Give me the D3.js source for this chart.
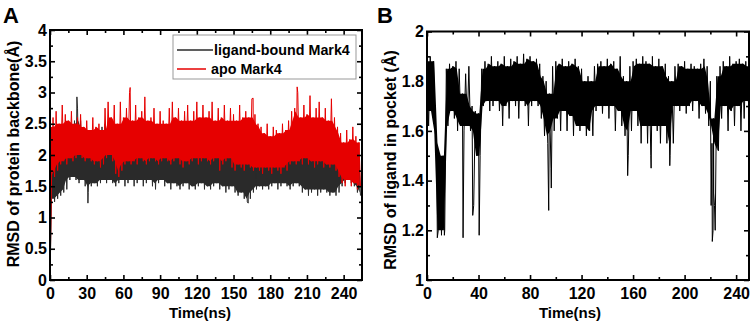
<!DOCTYPE html>
<html><head><meta charset="utf-8">
<script src="https://cdn.jsdelivr.net/npm/d3@7"></script>
<style>body{margin:0;background:#fff}svg{display:block}</style>
</head><body>
<svg id="c" width="754" height="323"></svg>
<script>
// ---------- DATA (2.5 ns bins: local high / local low) ----------
const STEP = 2.5;
// Panel A : ligand-bound Mark4 (black), apo Mark4 (red), time 0–252.5 ns
const aBlackHi = [1.9,2.0,2.05,2.1,2.15,2.2,2.35,2.5,2.55,2.75,
  2.55,2.4,2.3,2.25,2.35,2.3,2.35,2.45,2.5,2.45,
  2.3,2.15,2.2,2.3,2.25,2.2,2.3,2.35,2.25,2.2,
  2.3,2.25,2.2,2.3,2.35,2.25,2.2,2.3,2.25,2.35,
  2.45,2.3,2.2,2.25,2.3,2.2,2.25,2.3,2.2,2.25,
  2.3,2.2,2.25,2.35,2.2,2.3,2.25,2.15,2.25,2.2,
  2.3,2.2,2.15,2.25,2.2,2.3,2.2,2.25,2.15,2.2,
  2.25,2.1,2.2,2.15,2.25,2.2,2.1,2.2,2.25,2.15,
  2.2,2.3,2.25,2.15,2.2,2.3,2.2,2.15,2.2,2.25,
  2.3,2.2,2.25,2.2,2.1,2.05,2.0,2.1,2.0,2.05,
  2.0,1.95];
const aBlackLo = [1.3,1.25,1.3,1.35,1.4,1.45,1.6,1.65,1.6,1.55,
  1.6,1.5,1.4,1.5,1.55,1.5,1.55,1.6,1.55,1.6,
  1.55,1.5,1.55,1.6,1.5,1.55,1.6,1.5,1.55,1.6,
  1.5,1.55,1.6,1.5,1.45,1.55,1.6,1.5,1.55,1.45,
  1.55,1.5,1.45,1.5,1.55,1.45,1.5,1.45,1.5,1.55,
  1.45,1.5,1.45,1.5,1.55,1.45,1.5,1.4,1.45,1.5,
  1.4,1.35,1.4,1.3,1.25,1.3,1.4,1.45,1.5,1.45,
  1.5,1.45,1.5,1.55,1.45,1.5,1.55,1.5,1.45,1.5,
  1.55,1.5,1.4,1.45,1.35,1.4,1.45,1.35,1.4,1.45,
  1.4,1.35,1.4,1.35,1.4,1.5,1.55,1.6,1.55,1.5,
  1.4,1.35];
const aBlackSpikes = [[0,0],[22,2.93],[31,1.23],[162,1.23]];
const aRedHi = [2.45,2.6,2.7,2.5,2.8,2.65,2.55,2.7,2.5,2.6,
  2.65,2.45,2.55,2.4,2.6,2.45,2.5,2.4,2.75,2.85,
  2.6,2.8,2.5,2.85,2.6,2.75,3.0,2.55,2.8,2.6,
  2.7,2.9,2.55,2.6,2.75,2.5,2.7,2.55,2.5,2.75,
  2.85,2.6,2.75,2.55,2.7,2.8,2.55,2.7,2.85,2.6,
  2.8,2.6,2.7,2.85,2.55,2.75,2.6,2.8,2.55,2.75,
  2.65,2.55,2.8,2.6,2.7,2.6,2.9,2.65,2.5,2.45,
  2.35,2.5,2.3,2.45,2.4,2.35,2.5,2.4,2.55,2.7,
  2.75,3.0,2.6,2.8,2.65,2.95,2.6,2.75,2.85,2.6,
  2.75,2.55,2.9,2.6,2.45,2.35,2.2,2.4,2.25,2.45,
  2.3,2.2];
const aRedLo = [1.6,1.65,1.75,1.85,1.9,1.85,1.95,1.9,1.95,2.0,
  1.95,1.9,1.95,1.9,1.85,1.9,1.8,1.85,1.95,2.0,
  1.9,1.7,1.65,1.75,1.85,1.9,1.85,1.9,1.85,1.95,
  1.9,1.85,1.9,1.95,1.9,1.85,1.9,1.95,1.9,1.85,
  1.9,1.95,1.85,1.8,1.9,1.85,1.9,1.95,1.85,1.9,
  1.95,1.9,1.85,1.9,1.95,1.75,1.85,1.9,1.95,1.8,
  1.75,1.85,1.8,1.75,1.85,1.8,1.75,1.8,1.75,1.7,
  1.8,1.75,1.7,1.8,1.75,1.7,1.8,1.75,1.85,1.9,
  1.85,1.9,1.85,1.95,1.85,1.9,1.8,1.85,1.9,1.8,
  1.85,1.8,1.85,1.75,1.65,1.55,1.5,1.6,1.5,1.55,
  1.45,1.5];
const aRedSpikes = [[0,0],[65.5,3.08],[77.5,2.93],[166,2.91],[202,3.09]];
const aXTicks = [0,30,60,90,120,150,180,210,240];
const aYTicks = [0,0.5,1,1.5,2,2.5,3,3.5,4];

// Panel B : ligand RMSD in pocket, time 0–250 ns
const bHi = [1.88,1.9,1.88,1.55,1.5,1.5,1.85,1.87,1.86,1.88,
  1.85,1.75,1.83,1.86,1.7,1.68,1.67,1.85,1.88,1.87,
  1.9,1.86,1.88,1.87,1.9,1.86,1.89,1.88,1.9,1.87,
  1.91,1.89,1.9,1.88,1.89,1.87,1.82,1.8,1.75,1.86,
  1.88,1.87,1.89,1.86,1.88,1.87,1.89,1.86,1.85,1.8,
  1.82,1.8,1.86,1.87,1.88,1.86,1.89,1.87,1.88,1.85,
  1.9,1.82,1.8,1.86,1.88,1.89,1.87,1.9,1.88,1.87,
  1.9,1.86,1.89,1.86,1.87,1.82,1.8,1.86,1.87,1.86,
  1.88,1.85,1.87,1.86,1.85,1.87,1.89,1.86,1.8,1.65,
  1.82,1.86,1.88,1.86,1.9,1.87,1.88,1.89,1.87,1.88,
  1.86];
const bLo = [1.62,1.68,1.6,1.2,1.18,1.2,1.62,1.68,1.65,1.6,
  1.62,1.6,1.62,1.6,1.3,1.5,1.5,1.7,1.72,1.68,
  1.7,1.72,1.68,1.62,1.7,1.65,1.72,1.7,1.65,1.72,
  1.7,1.62,1.7,1.72,1.7,1.65,1.58,1.55,1.45,1.6,
  1.65,1.6,1.68,1.6,1.66,1.58,1.62,1.6,1.62,1.58,
  1.6,1.58,1.68,1.7,1.67,1.7,1.65,1.7,1.6,1.68,
  1.62,1.58,1.5,1.6,1.68,1.62,1.55,1.62,1.55,1.5,
  1.62,1.6,1.55,1.62,1.55,1.5,1.55,1.7,1.68,1.7,
  1.67,1.7,1.68,1.72,1.65,1.7,1.67,1.62,1.55,1.2,
  1.52,1.65,1.7,1.6,1.68,1.62,1.7,1.6,1.65,1.72,
  1.6];
const bSpikes = [[8,1.17],[13.5,1.18],[28,1.17],[35.5,1.26],[40.5,1.18],[94.5,1.28],[96.5,1.37],
  [155.8,1.42],[174,1.45],[188.5,1.46],[220.6,1.3],[221.5,1.155],[222.1,1.2],[222.6,1.35],[223.2,1.3]];
const bXTicks = [0,40,80,120,160,200,240];
const bYTicks = [1,1.2,1.4,1.6,1.8,2];

// ---------- DRAWING ----------
const svg = d3.select('#c');
const FONT = '"Liberation Sans", Arial, sans-serif';

// zig-zag trace through the local highs / lows, with isolated spikes merged in
function seriesPoints(hi, lo, extra) {
  const pts = [];
  hi.forEach((h, i) => { const t = i * STEP; pts.push([t, h]); pts.push([t + STEP / 2, lo[i]]); });
  extra.forEach(p => pts.push(p));
  pts.sort((a, b) => a[0] - b[0]);
  return pts;
}
// dense core of the trace: the range every neighbouring bin covers (own range if none)
function coreRows(hi, lo) {
  return hi.map((h, i) => {
    const a = Math.max(0, i - 1), b = Math.min(hi.length, i + 2);
    let top = d3.min(hi.slice(a, b)), bot = d3.max(lo.slice(a, b));
    if (bot >= top) { top = h; bot = lo[i]; }
    return { t: i * STEP + STEP / 4, hi: top, lo: bot };
  });
}

function panel(o) {
  const g = svg.append('g');
  const x = d3.scaleLinear().domain(o.xDomain).range([o.left, o.right]);
  const y = d3.scaleLinear().domain(o.yDomain).range([o.bottom, o.top]);
  const cid = 'clip' + o.id;
  svg.append('clipPath').attr('id', cid).append('rect')
    .attr('x', o.left).attr('y', o.top).attr('width', o.right - o.left).attr('height', o.bottom - o.top);
  const line = d3.line().x(d => x(d[0])).y(d => y(d[1]));
  const area = d3.area().x(d => x(d.t)).y0(d => y(d.lo)).y1(d => y(d.hi));
  o.series.forEach(s => {
    g.append('path').attr('d', area(coreRows(s.hi, s.lo))).attr('fill', s.color)
      .attr('clip-path', `url(#${cid})`);
    g.append('path').attr('d', line(seriesPoints(s.hi, s.lo, s.spikes))).attr('fill', 'none')
      .attr('stroke', s.color).attr('stroke-width', 1)
      .attr('clip-path', `url(#${cid})`);
  });
  const axes = [
    [d3.axisBottom(x).tickValues(o.xTicks).tickSize(-5).tickPadding(8).tickFormat(d => d), 0, o.bottom],
    [d3.axisBottom(x).tickValues(o.xMinor).tickSize(-3).tickFormat(''), 0, o.bottom],
    [d3.axisTop(x).tickValues(o.xTicks).tickSize(-5).tickFormat(''), 0, o.top],
    [d3.axisTop(x).tickValues(o.xMinor).tickSize(-3).tickFormat(''), 0, o.top],
    [d3.axisLeft(y).tickValues(o.yTicks).tickSize(-5).tickPadding(3).tickFormat(o.yFmt), o.left, 0],
    [d3.axisLeft(y).tickValues(o.yMinor).tickSize(-3).tickFormat(''), o.left, 0],
    [d3.axisRight(y).tickValues(o.yTicks).tickSize(-5).tickFormat(''), o.right, 0],
    [d3.axisRight(y).tickValues(o.yMinor).tickSize(-3).tickFormat(''), o.right, 0]
  ];
  axes.forEach(([ax, tx, ty]) => {
    const a = g.append('g').attr('transform', `translate(${tx},${ty})`).call(ax);
    a.select('.domain').remove();
    a.selectAll('line').attr('stroke', '#000').attr('stroke-width', 1.6);
    a.selectAll('text').attr('font-family', FONT).attr('font-weight', 'bold')
      .attr('font-size', 16).attr('fill', '#000');
  });
  g.append('rect').attr('x', o.left).attr('y', o.top)
    .attr('width', o.right - o.left).attr('height', o.bottom - o.top)
    .attr('fill', 'none').attr('stroke', '#000').attr('stroke-width', 2);
  g.append('text').attr('x', (o.left + o.right) / 2 + o.xTitleDx).attr('y', 318)
    .attr('text-anchor', 'middle').attr('font-family', FONT).attr('font-weight', 'bold')
    .attr('font-size', 15).text('Time(ns)');
  g.append('text').attr('transform', `translate(${o.yTitleX},${o.yTitleY}) rotate(-90)`)
    .attr('text-anchor', 'middle').attr('font-family', FONT).attr('font-weight', 'bold')
    .attr('font-size', 16).text(o.yTitle);
  g.append('text').attr('x', o.letterX).attr('y', 23).attr('font-family', FONT)
    .attr('font-weight', 'bold').attr('font-size', 22).text(o.letter);
  return { x, y, g };
}

const RED = '#e60000', GREY = '#2a2a2a';
const A = panel({
  id: 'A', left: 50, right: 362, top: 30, bottom: 280,
  xDomain: [0, 255], yDomain: [0, 4],
  xTicks: aXTicks, xMinor: d3.range(15, 255, 30),
  yTicks: aYTicks, yMinor: d3.range(0.25, 4, 0.5),
  yFmt: d => String(d),
  series: [
    { hi: aBlackHi, lo: aBlackLo, spikes: aBlackSpikes, color: GREY },
    { hi: aRedHi, lo: aRedLo, spikes: aRedSpikes, color: RED }
  ],
  xTitleDx: -6, yTitleX: 19, yTitleY: 154,
  yTitle: 'RMSD of protein backbone(Å)', letter: 'A', letterX: 3
});
// legend
const lg = A.g.append('g');
lg.append('rect').attr('x', 173).attr('y', 35).attr('width', 183).attr('height', 44)
  .attr('fill', '#fff').attr('stroke', '#999').attr('stroke-width', 1);
lg.append('line').attr('x1', 177).attr('x2', 213).attr('y1', 50).attr('y2', 50)
  .attr('stroke', GREY).attr('stroke-width', 1.5);
lg.append('text').attr('x', 214).attr('y', 55).attr('font-family', FONT).attr('font-weight', 'bold')
  .attr('font-size', 14.3).text('ligand-bound Mark4');
lg.append('line').attr('x1', 177).attr('x2', 206).attr('y1', 69).attr('y2', 69)
  .attr('stroke', RED).attr('stroke-width', 1.5);
lg.append('text').attr('x', 211).attr('y', 74).attr('font-family', FONT).attr('font-weight', 'bold')
  .attr('font-size', 14.3).text('apo Mark4');

panel({
  id: 'B', left: 427, right: 749, top: 31.5, bottom: 280,
  xDomain: [0, 250], yDomain: [1, 2],
  xTicks: bXTicks, xMinor: d3.range(20, 250, 40),
  yTicks: bYTicks, yMinor: d3.range(1.1, 2, 0.2),
  yFmt: d => String(+d.toFixed(1)),
  series: [{ hi: bHi, lo: bLo, spikes: bSpikes, color: '#000' }],
  xTitleDx: -18, yTitleX: 396, yTitleY: 160,
  yTitle: 'RMSD of ligand in pocket (Å)', letter: 'B', letterX: 377
});
</script>
</body></html>
